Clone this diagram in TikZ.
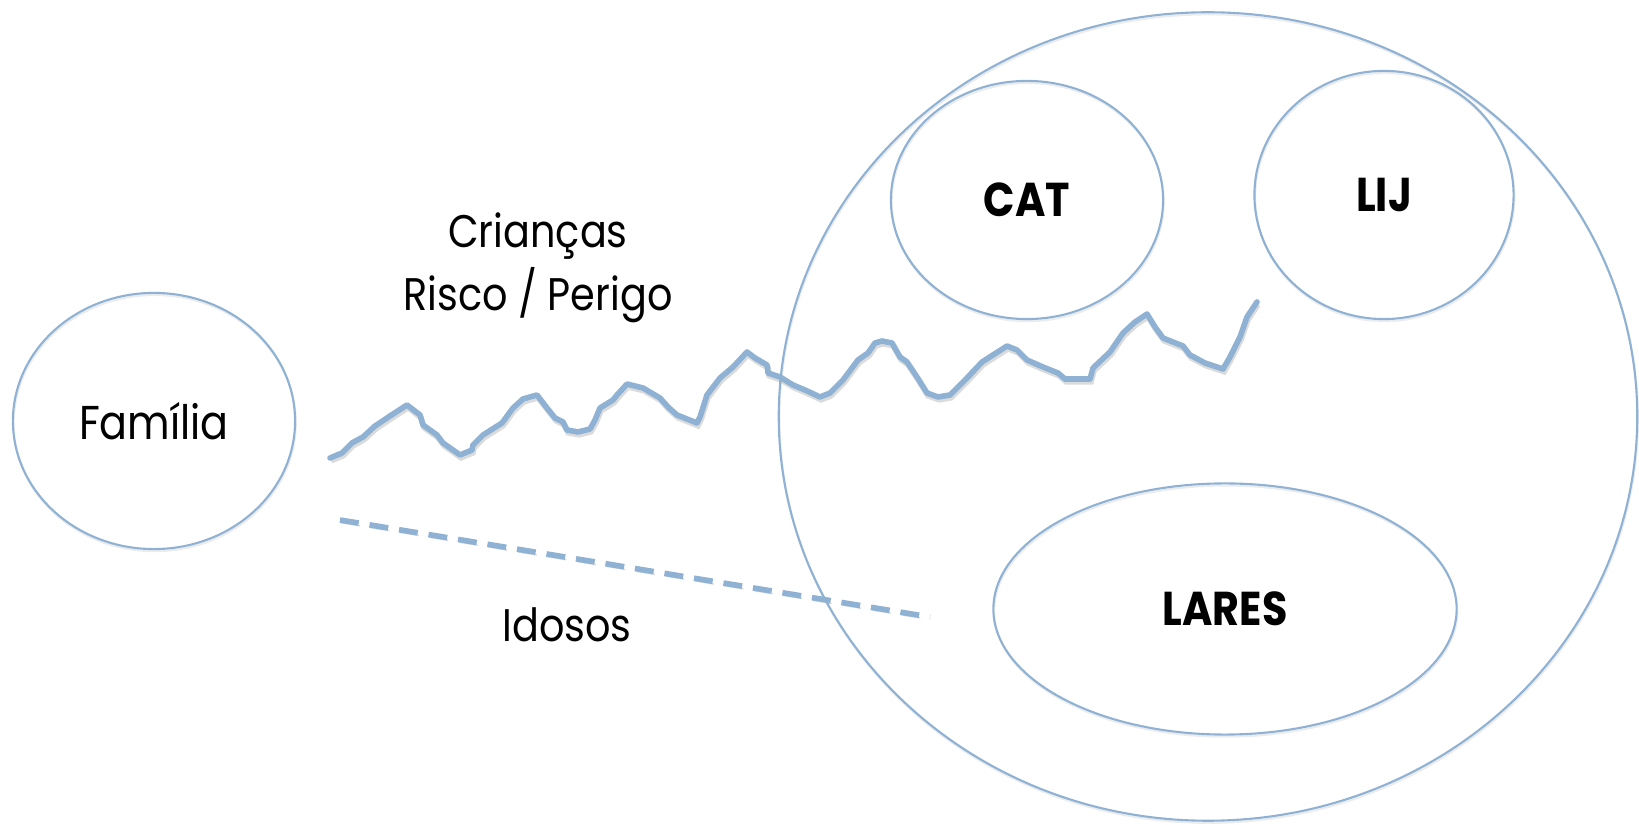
\documentclass[tikz,border=0pt]{standalone}
\usepackage{fontspec}
\setmainfont{Poppins}[FakeStretch=0.87]
\usetikzlibrary{shapes.geometric}

\definecolor{azul}{RGB}{143,178,212}

\tikzset{
    bolha/.style={ellipse, draw=azul, line width=0.6pt, inner sep=0pt,
        font=\fontsize{13.5}{16}\selectfont,
        preaction={draw=black!15, opacity=0.5, transform canvas={xshift=0.2pt, yshift=-0.6pt}}},
    rotulo/.style={inner sep=0pt, align=center, font=\fontsize{13}{18}\selectfont},
    risco/.style={draw=azul, line width=1.6pt, line join=round, line cap=round,
        preaction={draw=black!40, opacity=0.35, line width=1.6pt, transform canvas={xshift=0.3pt, yshift=-0.8pt}}},
    idosos/.style={draw=azul, line width=1.6pt, dash pattern=on 5.4pt off 3.1pt,
        preaction={draw=black!40, opacity=0.35, dash pattern=on 5.4pt off 3.1pt, transform canvas={xshift=0.3pt, yshift=-0.8pt}}}
}

\begin{document}
\begin{tikzpicture}[x=0.01cm, y=-0.01cm]
    \useasboundingbox (0,0) rectangle (1639,825);

    % bolhas
    \node[bolha, minimum width=2.82cm, minimum height=2.56cm] (familia) at (154,421) {Família};
    \node[bolha, minimum width=8.58cm, minimum height=8.08cm] (lar) at (1208,416.5) {};
    \node[bolha, minimum width=2.72cm, minimum height=2.38cm] (cat) at (1027,200) {\bfseries CAT};
    \node[bolha, minimum width=2.59cm, minimum height=2.48cm] (lij) at (1384,195) {\bfseries LIJ};
    \node[bolha, minimum width=4.63cm, minimum height=2.51cm] (lares) at (1225,609) {\bfseries LARES};

    % textos
    \node[rotulo] (criancas) at (538,268) {Crianças\\Risco / Perigo};
    \node[rotulo, anchor=base] (idosostxt) at (567,642) {Idosos};

    % ligacoes
    \coordinate (riscoIni) at (330,458);
    \coordinate (riscoFim) at (1257,302);
    \coordinate (idososIni) at (340,520);
    \coordinate (idososFim) at (930,617);

    \draw[risco] (riscoIni) -- (342,453) -- (352,443) -- (363,437) -- (375,426) -- (390,416)
        -- (407,405) -- (420,415) -- (423,425) -- (437,435) -- (443,443) -- (460,455)
        -- (472,450) -- (473,445) -- (483,435) -- (502,423) -- (513,408) -- (523,399)
        -- (537,395) -- (547,408) -- (555,418) -- (563,422) -- (567,430) -- (578,432)
        -- (590,429) -- (595,420) -- (600,408) -- (613,400) -- (617,395) -- (627,384)
        -- (643,388) -- (660,398) -- (668,407) -- (677,415) -- (697,423) -- (700,417)
        -- (707,395) -- (720,378) -- (733,367) -- (747,352) -- (755,358) -- (767,365)
        -- (768,373) -- (780,377) -- (793,385) -- (805,390) -- (820,397) -- (830,393)
        -- (843,380) -- (858,360) -- (868,353) -- (875,343) -- (882,341) -- (892,343)
        -- (900,357) -- (907,362) -- (917,377) -- (927,393) -- (938,397) -- (950,395)
        -- (967,378) -- (982,362) -- (1007,346) -- (1017,350) -- (1027,360) -- (1043,367)
        -- (1058,373) -- (1065,379) -- (1090,379) -- (1093,368) -- (1110,352) -- (1123,333)
        -- (1135,322) -- (1147,314) -- (1155,327) -- (1163,338) -- (1183,346) -- (1190,355)
        -- (1205,363) -- (1223,369) -- (1230,357) -- (1240,337) -- (1247,317) -- (riscoFim);

    \draw[idosos] (idososIni) -- (idososFim);
\end{tikzpicture}
\end{document}
